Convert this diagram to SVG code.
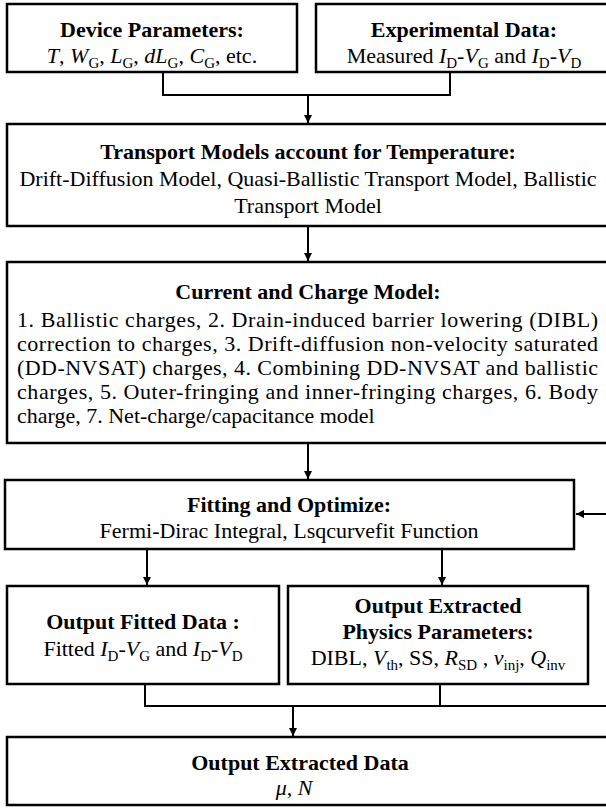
<svg xmlns="http://www.w3.org/2000/svg" width="606" height="810" viewBox="0 0 606 810">
  <style>
    .box { fill: #ffffff; stroke: #000000; stroke-width: 2.5; }
    .wire { fill: none; stroke: #000000; stroke-width: 2; }
    text { font-family: "Liberation Serif", "Times New Roman", serif; font-size: 22px; fill: #000000; }
    .title { font-weight: bold; text-anchor: middle; }
    .mid { text-anchor: middle; }
    .it { font-style: italic; }
    .sub { font-size: 15px; font-style: normal; }
  </style>
  <defs>
    <marker id="arrow" viewBox="0 0 10 10" refX="10" refY="5" markerWidth="8" markerHeight="8" markerUnits="userSpaceOnUse" orient="auto">
      <path d="M0,0 L10,5 L0,10 z" fill="#000000"/>
    </marker>
  </defs>
  <rect width="606" height="810" fill="#ffffff"/>

  <!-- connectors -->
  <g id="connectors">
    <path class="wire" d="M163,72 V95 H450 V72"/>
    <path class="wire" d="M308,95 V123" marker-end="url(#arrow)"/>
    <path class="wire" d="M308,226 V261" marker-end="url(#arrow)"/>
    <path class="wire" d="M308,443 V479" marker-end="url(#arrow)"/>
    <path class="wire" d="M147,549 V585" marker-end="url(#arrow)"/>
    <path class="wire" d="M442,549 V585" marker-end="url(#arrow)"/>
    <path class="wire" d="M145,684 V706 H608"/>
    <path class="wire" d="M440,684 V706"/>
    <path class="wire" d="M293,706 V736" marker-end="url(#arrow)"/>
    <path class="wire" d="M608,514 H576" marker-end="url(#arrow)"/>
  </g>

  <!-- inputs -->
  <g id="device-parameters">
    <rect class="box" x="7" y="4" width="290" height="68"/>
    <text class="title" x="152" y="37">Device Parameters:</text>
    <text class="mid" x="152" y="63"><tspan class="it">T</tspan>, <tspan class="it">W</tspan><tspan class="sub" dy="5">G</tspan><tspan dy="-5">, </tspan><tspan class="it">L</tspan><tspan class="sub" dy="5">G</tspan><tspan dy="-5">, </tspan><tspan class="it">dL</tspan><tspan class="sub" dy="5">G</tspan><tspan dy="-5">, </tspan><tspan class="it">C</tspan><tspan class="sub" dy="5">G</tspan><tspan dy="-5">, etc.</tspan></text>
  </g>

  <g id="experimental-data">
    <rect class="box" x="316" y="4" width="300" height="68"/>
    <text class="title" x="464" y="37">Experimental Data:</text>
    <text class="mid" x="464" y="63">Measured <tspan class="it">I</tspan><tspan class="sub" dy="5">D</tspan><tspan dy="-5">-</tspan><tspan class="it">V</tspan><tspan class="sub" dy="5">G</tspan><tspan dy="-5"> and </tspan><tspan class="it">I</tspan><tspan class="sub" dy="5">D</tspan><tspan dy="-5">-</tspan><tspan class="it">V</tspan><tspan class="sub" dy="5">D</tspan></text>
  </g>

  <!-- models -->
  <g id="transport-models">
    <rect class="box" x="7" y="124" width="605" height="102"/>
    <text class="title" x="308" y="159">Transport Models account for Temperature:</text>
    <text class="mid" x="308" y="186">Drift-Diffusion Model, Quasi-Ballistic Transport Model, Ballistic</text>
    <text class="mid" x="308" y="213">Transport Model</text>
  </g>

  <g id="current-charge-model">
    <rect class="box" x="7" y="262" width="605" height="181"/>
    <text class="title" x="308" y="299">Current and Charge Model:</text>
    <text x="17" y="327" textLength="581" lengthAdjust="spacing">1. Ballistic charges, 2. Drain-induced barrier lowering (DIBL)</text>
    <text x="17" y="351" textLength="581" lengthAdjust="spacing">correction to charges, 3. Drift-diffusion non-velocity saturated</text>
    <text x="17" y="375" textLength="581" lengthAdjust="spacing">(DD-NVSAT) charges, 4. Combining DD-NVSAT and ballistic</text>
    <text x="17" y="399" textLength="581" lengthAdjust="spacing">charges, 5. Outer-fringing and inner-fringing charges, 6. Body</text>
    <text x="17" y="423">charge, 7. Net-charge/capacitance model</text>
  </g>

  <g id="fitting-optimize">
    <rect class="box" x="5" y="480" width="569" height="69"/>
    <text class="title" x="289" y="512">Fitting and Optimize:</text>
    <text class="mid" x="289" y="538">Fermi-Dirac Integral, Lsqcurvefit Function</text>
  </g>

  <!-- outputs -->
  <g id="output-fitted-data">
    <rect class="box" x="7" y="586" width="272" height="98"/>
    <text class="title" x="143" y="629">Output Fitted Data :</text>
    <text class="mid" x="143" y="656">Fitted <tspan class="it">I</tspan><tspan class="sub" dy="5">D</tspan><tspan dy="-5">-</tspan><tspan class="it">V</tspan><tspan class="sub" dy="5">G</tspan><tspan dy="-5"> and </tspan><tspan class="it">I</tspan><tspan class="sub" dy="5">D</tspan><tspan dy="-5">-</tspan><tspan class="it">V</tspan><tspan class="sub" dy="5">D</tspan></text>
  </g>

  <g id="output-physics-parameters">
    <rect class="box" x="288" y="586" width="300" height="98"/>
    <text class="title" x="438" y="613">Output Extracted</text>
    <text class="title" x="438" y="639">Physics Parameters:</text>
    <text class="mid" x="438" y="665">DIBL, <tspan class="it">V</tspan><tspan class="sub" dy="5">th</tspan><tspan dy="-5">, SS, </tspan><tspan class="it">R</tspan><tspan class="sub" dy="5">SD</tspan><tspan dy="-5"> , </tspan><tspan class="it">v</tspan><tspan class="sub" dy="5">inj</tspan><tspan dy="-5">, </tspan><tspan class="it">Q</tspan><tspan class="sub" dy="5">inv</tspan></text>
  </g>

  <g id="output-extracted-data">
    <rect class="box" x="7" y="737" width="605" height="68"/>
    <text class="title" x="300" y="770">Output Extracted Data</text>
    <text class="mid it" x="294" y="795">μ, N</text>
  </g>
</svg>
